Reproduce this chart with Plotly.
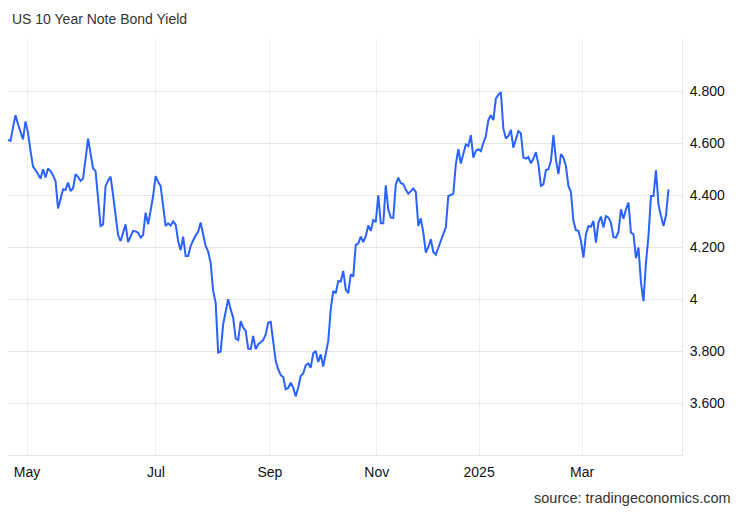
import plotly.graph_objects as go

title_text = "US 10 Year Note Bond Yield"
source_text = "source: tradingeconomics.com"

# daily yields (%), late Apr 2024 -> mid Apr 2025
yields = [
    4.612, 4.608, 4.66, 4.707, 4.672, 4.64, 4.614, 4.683, 4.640, 4.57,
    4.509, 4.496, 4.48, 4.463, 4.499, 4.467, 4.502, 4.492, 4.475, 4.454,
    4.348, 4.39, 4.422, 4.419, 4.448, 4.415, 4.426, 4.480, 4.47, 4.454,
    4.463, 4.54, 4.617, 4.56, 4.502, 4.492, 4.390, 4.281, 4.287, 4.435,
    4.455, 4.471, 4.40, 4.32, 4.246, 4.223, 4.255, 4.287, 4.219, 4.24,
    4.262, 4.26, 4.255, 4.236, 4.246, 4.332, 4.287, 4.34, 4.396, 4.473,
    4.45, 4.435, 4.36, 4.281, 4.291, 4.283, 4.298, 4.287, 4.223, 4.188,
    4.240, 4.165, 4.165, 4.204, 4.225, 4.245, 4.258, 4.294, 4.249, 4.204,
    4.182, 4.140, 4.031, 3.986, 3.794, 3.798, 3.903, 3.95, 3.999, 3.96,
    3.928, 3.848, 3.842, 3.915, 3.890, 3.877, 3.809, 3.807, 3.858, 3.807,
    3.826, 3.834, 3.842, 3.864, 3.909, 3.912, 3.845, 3.762, 3.730, 3.707,
    3.700, 3.653, 3.658, 3.678, 3.659, 3.625, 3.66, 3.704, 3.714, 3.745,
    3.752, 3.736, 3.791, 3.800, 3.758, 3.787, 3.740, 3.79, 3.838, 3.960,
    4.031, 4.022, 4.069, 4.067, 4.108, 4.037, 4.022, 4.095, 4.086, 4.208,
    4.213, 4.240, 4.219, 4.242, 4.283, 4.262, 4.304, 4.296, 4.399, 4.291,
    4.291, 4.437, 4.345, 4.313, 4.312, 4.441, 4.467, 4.445, 4.442, 4.42,
    4.405, 4.415, 4.425, 4.412, 4.281, 4.310, 4.255, 4.178, 4.20, 4.230,
    4.181, 4.171, 4.195, 4.219, 4.25, 4.275, 4.396, 4.40, 4.405, 4.518,
    4.576, 4.521, 4.56, 4.595, 4.588, 4.630, 4.544, 4.57, 4.576, 4.569,
    4.60, 4.627, 4.688, 4.707, 4.688, 4.771, 4.785, 4.796, 4.655, 4.617,
    4.627, 4.650, 4.582, 4.614, 4.646, 4.637, 4.544, 4.540, 4.546, 4.522,
    4.54, 4.565, 4.518, 4.435, 4.441, 4.496, 4.499, 4.531, 4.630, 4.537,
    4.480, 4.557, 4.544, 4.512, 4.435, 4.412, 4.300, 4.265, 4.262, 4.223,
    4.159, 4.249, 4.281, 4.278, 4.300, 4.217, 4.294, 4.317, 4.275, 4.319,
    4.313, 4.294, 4.238, 4.236, 4.258, 4.345, 4.309, 4.345, 4.371, 4.255,
    4.249, 4.157, 4.198, 4.063, 3.992, 4.140, 4.242, 4.396, 4.396, 4.495,
    4.364, 4.319, 4.281, 4.322, 4.422,
]
session = list(range(len(yields)))

# month boundaries (position in the session sequence) and their labels
month_tick_pos = [7.6, 59.1, 104.7, 147.4, 188.3, 229.5]
month_tick_text = ["May", "Jul", "Sep", "Nov", "2025", "Mar"]

y_tick_vals = [3.6, 3.8, 4.0, 4.2, 4.4, 4.6, 4.8, 5.0]
y_tick_text = ["3.600", "3.800", "4", "4.200", "4.400", "4.600", "4.800", ""]

FONT = "Liberation Sans, Arial, Helvetica, sans-serif"

fig = go.Figure()
fig.add_trace(go.Scatter(
    x=session, y=yields, mode="lines",
    line=dict(color="#2962ff", width=2),
    hoverinfo="skip", showlegend=False,
))

fig.update_layout(
    width=743, height=515,
    margin=dict(l=8, r=61, t=39, b=60),
    paper_bgcolor="white", plot_bgcolor="white",
    font=dict(family=FONT, size=14, color="#111"),
    title=dict(text=title_text, x=12 / 743, xanchor="left",
               y=1 - 19.5 / 515, yanchor="middle",
               font=dict(family=FONT, size=14, color="#333")),
    xaxis=dict(
        range=[0, 269.4],
        tickvals=month_tick_pos, ticktext=month_tick_text,
        showgrid=True, gridcolor="#eef2f5", gridwidth=1,
        showline=True, linecolor="#e6e6e6", linewidth=1,
        ticks="", zeroline=False, fixedrange=True,
        ticklabelstandoff=4,
        tickfont=dict(size=14, color="#111"),
    ),
    yaxis=dict(
        range=[3.4, 5.0], side="right",
        tickvals=y_tick_vals, ticktext=y_tick_text,
        showgrid=True, gridcolor="#e6e6e6", gridwidth=1,
        showline=True, linecolor="#e6e6e6", linewidth=1,
        ticks="", zeroline=False, fixedrange=True,
        ticklabelstandoff=4,
        tickfont=dict(size=14, color="#111"),
    ),
    annotations=[dict(
        text=source_text, xref="paper", yref="paper",
        x=(733 - 8) / 674, y=-(498 - 455) / 416,
        xanchor="right", yanchor="middle", showarrow=False,
        font=dict(family=FONT, size=14.5, color="#333"),
    )],
)

fig.write_html("out.html")
